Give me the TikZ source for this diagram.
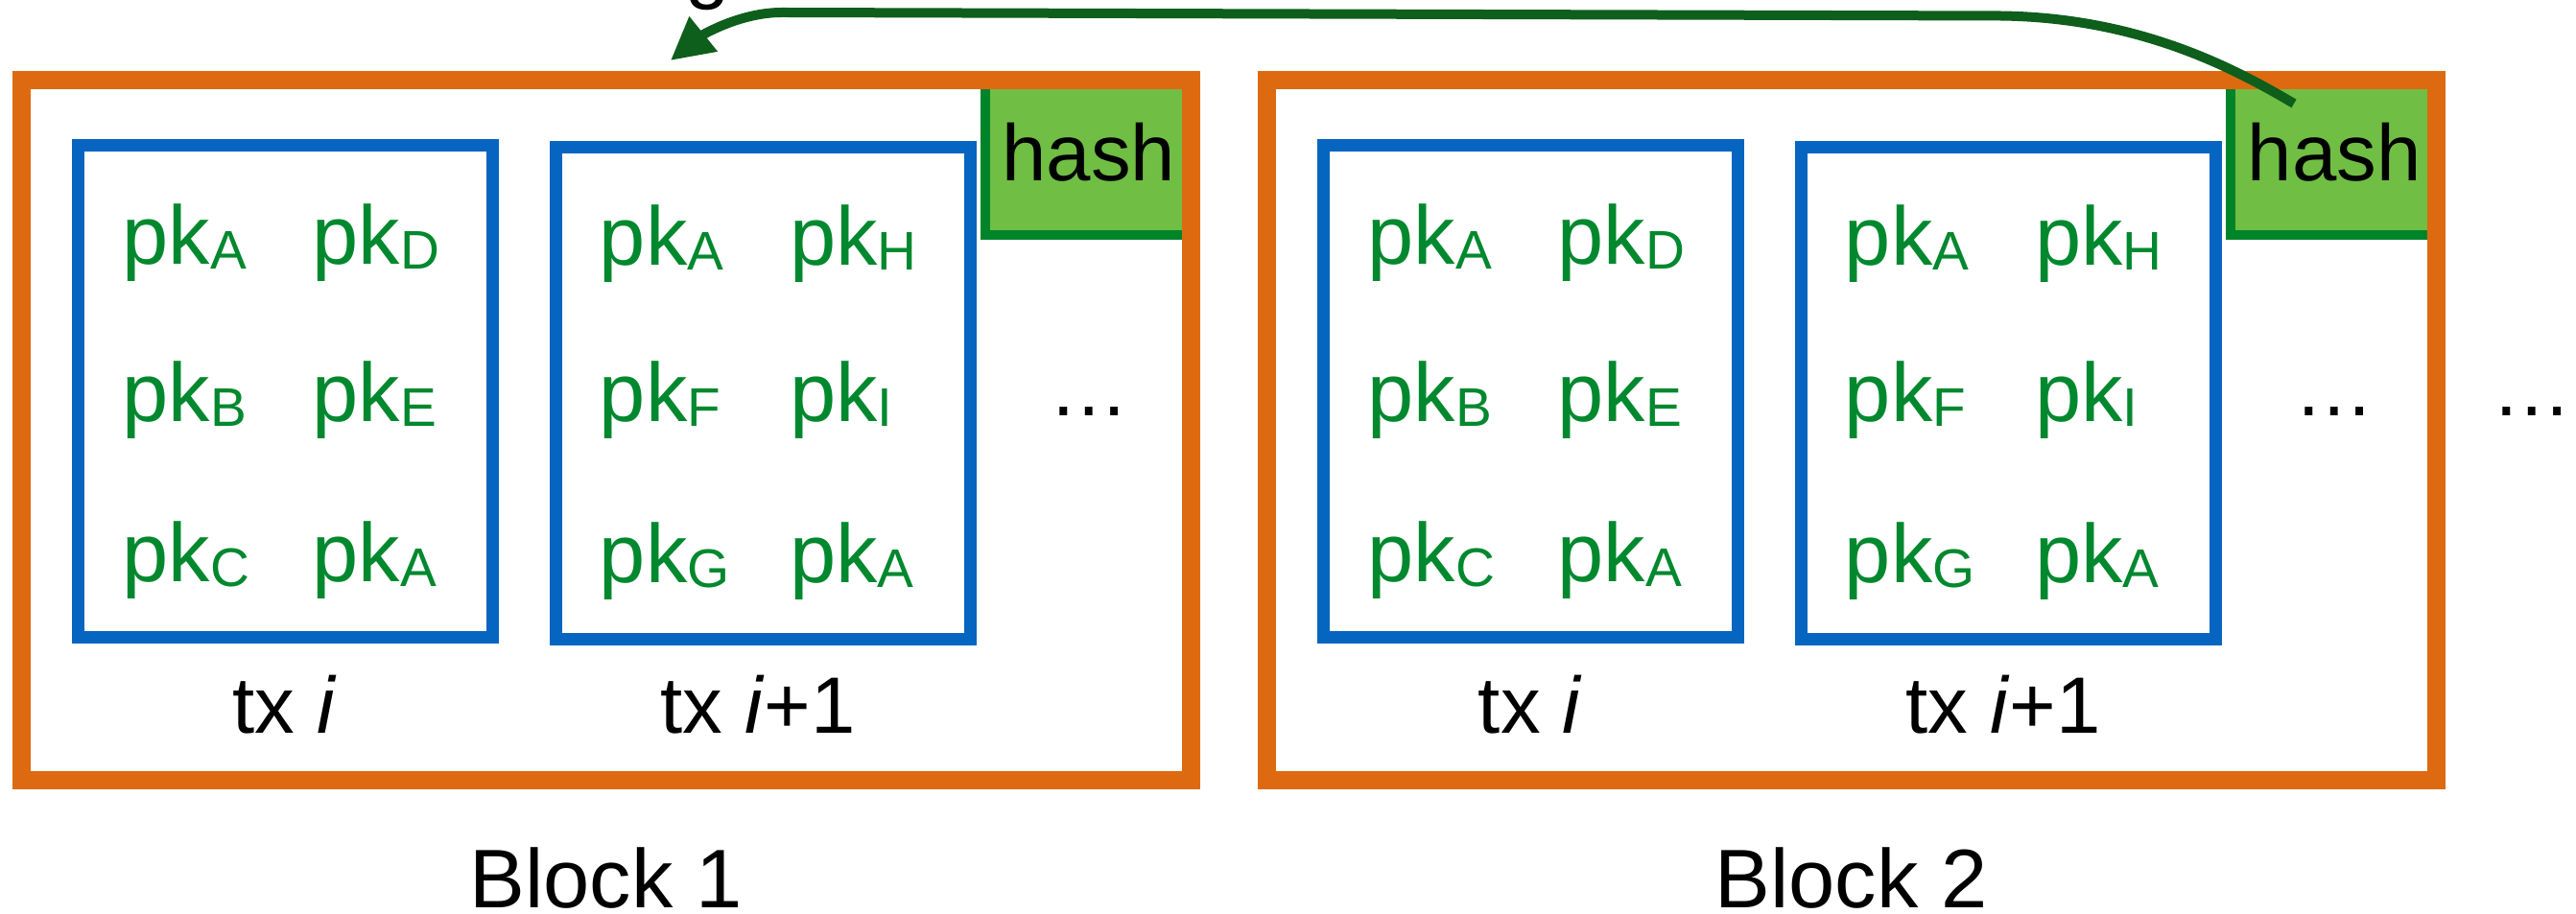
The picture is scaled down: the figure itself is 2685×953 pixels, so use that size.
\documentclass[tikz,border=0pt]{standalone}
\usepackage{fontspec}
\setmainfont{Liberation Sans}
\usetikzlibrary{arrows.meta,fit}
\definecolor{borange}{RGB}{221,106,17}
\definecolor{tblue}{RGB}{5,101,192}
\definecolor{pkgreen}{RGB}{0,136,46}
\definecolor{hfill}{RGB}{112,190,68}
\definecolor{hborder}{RGB}{0,132,42}
\definecolor{arrgreen}{RGB}{14,94,28}
\newcommand\pksub[1]{pk{\fontsize{17}{17}\selectfont\raisebox{-1.5pt}{#1}}}
\begin{document}
\begin{tikzpicture}[x=0.3pt,y=-0.3pt,
  blockbox/.style={draw=borange,line width=5.7pt,inner sep=0pt},
  txbox/.style={draw=tblue,line width=3.9pt,inner sep=0pt},
  hashbox/.style={fill=hfill,draw=hborder,line width=3pt,inner sep=0pt},
  pktext/.style={text=pkgreen,font=\fontsize{26}{26}\selectfont,anchor=base west,inner sep=0pt},
  lbl/.style={font=\fontsize{25}{25}\selectfont,anchor=base,inner sep=0pt},
  blklbl/.style={font=\fontsize{26}{26}\selectfont,anchor=base,inner sep=0pt},
  link/.style={draw=arrgreen,line width=3pt,-{Triangle[length=13.2pt,width=13.3pt]}}
]
\useasboundingbox (0,0) rectangle (2685,953);
\clip (0,0) rectangle (2685,953);
\foreach \n/\dx in {1/0,2/1298}{
  \node[hashbox, fit={(1027+\dx,83.5) (1241.5+\dx,245)}] (hash\n) {};
  \node[blockbox, fit={(22+\dx,83.5) (1241.5+\dx,814)}] (block\n) {};
  \node[txbox, fit={(81+\dx,151.7) (513.5+\dx,664.7)}] (txa\n) {};
  \node[txbox, fit={(579+\dx,154) (1011.5+\dx,667)}] (txb\n) {};
  \node[lbl] (hashtext\n) at (1135+\dx,188.3) {hash};
  % tx i
  \node[pktext] (pk\n a1) at (127+\dx,276) {\pksub{A}};
  \node[pktext] (pk\n a2) at (325+\dx,276) {\pksub{D}};
  \node[pktext] (pk\n a3) at (127+\dx,440) {\pksub{B}};
  \node[pktext] (pk\n a4) at (325+\dx,440) {\pksub{E}};
  \node[pktext] (pk\n a5) at (127+\dx,607) {\pksub{C}};
  \node[pktext] (pk\n a6) at (325+\dx,607) {\pksub{A}};
  % tx i+1
  \node[pktext] (pk\n b1) at (624.3+\dx,277) {\pksub{A}};
  \node[pktext] (pk\n b2) at (822.6+\dx,277) {\pksub{H}};
  \node[pktext] (pk\n b3) at (624.3+\dx,440) {\pksub{F}};
  \node[pktext] (pk\n b4) at (822.6+\dx,440) {\pksub{I}};
  \node[pktext] (pk\n b5) at (624.3+\dx,608) {\pksub{G}};
  \node[pktext] (pk\n b6) at (822.6+\dx,608) {\pksub{A}};
  \node[lbl] (txlbl\n) at (297+\dx,765) {tx \textit{i}};
  \node[lbl] (txnlbl\n) at (790+\dx,765) {tx \textit{i}+1};
  \node[blklbl] (blocklbl\n) at (631.75+\dx,947) {Block \n};
  \node[lbl] (dots\n) at (1135+\dx,434) {…};
}
\node[lbl] (dots3) at (2639,434) {…};
\node[lbl] (gtext) at (738,-6.6) {g};
\coordinate (hstart) at (2391,108);
\coordinate (htip) at (699,63);
\draw[link] (hstart) .. controls (2330,72) and (2230,18) .. (2084,16.5)
  -- (815,13) .. controls (770,13) and (730,38) .. (htip);
\end{tikzpicture}
\end{document}
